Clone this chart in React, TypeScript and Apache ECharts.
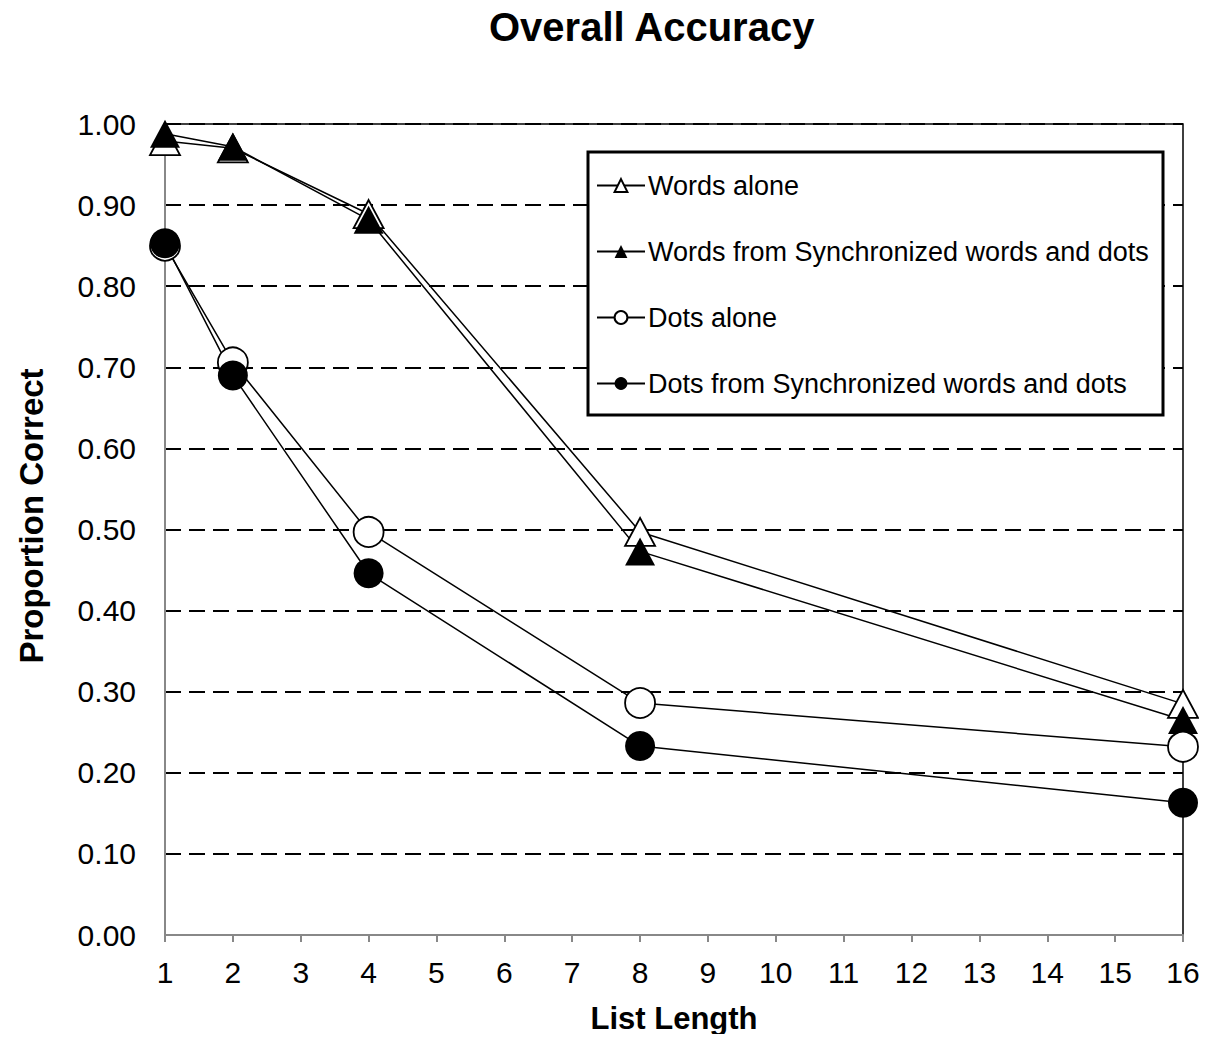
import React, { useEffect, useRef } from "react";
import * as echarts from "echarts";

const listLengths = [1, 2, 4, 8, 16];
const wordsAlone = [0.979, 0.97, 0.889, 0.497, 0.285];
const wordsSync = [0.988, 0.972, 0.882, 0.473, 0.265];
const dotsAlone = [0.85, 0.706, 0.497, 0.286, 0.232];
const dotsSync = [0.853, 0.69, 0.446, 0.233, 0.163];
const seriesNames = [
  "Words alone",
  "Words from Synchronized words and dots",
  "Dots alone",
  "Dots from Synchronized words and dots",
];

const FONT = "'Liberation Sans', Arial, Helvetica, sans-serif";

function pairs(values: number[]) {
  return listLengths.map((x, i) => [x, values[i]]);
}

export default function App() {
  const ref = useRef<HTMLDivElement>(null);
  useEffect(() => {
    if (!ref.current) return;
    const chart = echarts.init(ref.current, undefined, { renderer: "svg" });
    const mk = (name: string, values: number[], symbol: string, filled: boolean) => ({
      name,
      type: "line",
      data: pairs(values),
      symbol,
      symbolSize: symbol === "triangle" ? [30, 28] : 30,
      showAllSymbol: true,
      lineStyle: { color: "#000", width: 1.5 },
      itemStyle: {
        color: filled ? "#000" : "#fff",
        borderColor: "#000",
        borderWidth: filled ? 0 : 1.8,
      },
      emphasis: { disabled: true },
    });
    chart.setOption({
      animation: false,
      backgroundColor: "#fff",
      textStyle: { fontFamily: FONT },
      title: {
        text: "Overall Accuracy",
        left: 484,
        top: 2,
        textStyle: { fontFamily: FONT, fontSize: 40, fontWeight: "bold", color: "#000" },
      },
      grid: {
        left: 165,
        right: 24,
        top: 124,
        bottom: 107,
        show: true,
        borderColor: "#000",
        borderWidth: 1.5,
        backgroundColor: "transparent",
      },
      legend: {
        orient: "vertical",
        left: 596,
        top: 172,
        itemWidth: 48,
        itemHeight: 16,
        itemGap: 39,
        padding: 0,
        z: 5,
        textStyle: { fontFamily: FONT, fontSize: 27, color: "#000", lineHeight: 27, padding: [0, 0, 0, -2] },
        data: seriesNames,
      },
      graphic: [
        {
          type: "rect",
          z: 3,
          shape: { x: 588, y: 152, width: 575, height: 263 },
          style: { fill: "#fff", stroke: "#000", lineWidth: 3 },
        },
        {
          type: "text",
          x: 31,
          y: 516,
          rotation: Math.PI / 2,
          style: {
            text: "Proportion Correct",
            fontFamily: FONT,
            fontSize: 33,
            fontWeight: "bold",
            fill: "#000",
            align: "center",
            verticalAlign: "middle",
          },
        },
      ],
      xAxis: {
        type: "value",
        min: 1,
        max: 16,
        interval: 1,
        name: "List Length",
        nameLocation: "middle",
        nameGap: 68,
        nameTextStyle: { fontFamily: FONT, fontSize: 31, fontWeight: "bold", color: "#000" },
        axisLine: { show: true, lineStyle: { color: "#888", width: 2 } },
        axisTick: { show: true, length: 7, lineStyle: { color: "#888", width: 2 } },
        axisLabel: { fontFamily: FONT, fontSize: 30, color: "#000", margin: 22 },
        splitLine: { show: false },
      },
      yAxis: {
        type: "value",
        min: 0,
        max: 1,
        interval: 0.1,
        axisLine: { show: true, lineStyle: { color: "#888", width: 2 } },
        axisTick: { show: false },
        axisLabel: {
          fontFamily: FONT,
          fontSize: 30,
          color: "#000",
          margin: 29,
          formatter: (v: number) => v.toFixed(2),
        },
        splitLine: { show: true, lineStyle: { color: "#000", width: 1.8, type: [16, 8] } },
      },
      series: [
        mk(seriesNames[0], wordsAlone, "triangle", false),
        mk(seriesNames[1], wordsSync, "triangle", true),
        mk(seriesNames[2], dotsAlone, "circle", false),
        mk(seriesNames[3], dotsSync, "circle", true),
      ],
    });
    return () => chart.dispose();
  }, []);
  return <div ref={ref} style={{ width: 1207, height: 1042, margin: -8 }} />;
}
